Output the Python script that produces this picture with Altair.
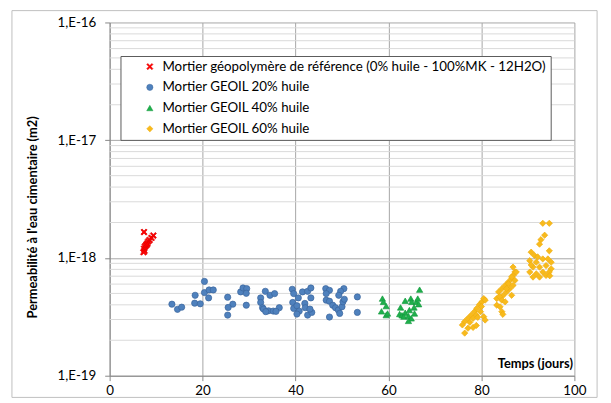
import altair as alt
import pandas as pd

# ---------------- data ----------------
series = [
    "Mortier géopolymère de référence (0% huile - 100%MK - 12H2O)",
    "Mortier GEOIL 20% huile",
    "Mortier GEOIL 40% huile",
    "Mortier GEOIL 60% huile",
]

ref_t = [7.4, 9.4, 9.0, 8.6, 8.3, 8.1, 7.8, 7.6, 7.4, 7.5, 7.3, 8.0]
ref_k = [1.66e-18, 1.55e-18, 1.48e-18, 1.42e-18, 1.38e-18, 1.33e-18,
         1.28e-18, 1.25e-18, 1.20e-18, 1.15e-18, 1.12e-18, 1.30e-18]

g20_t = [13.4, 14.6, 15.5, 18.4, 18.3, 19.5, 20.4, 20.4, 21.4, 22.3, 21.3,
         25.4, 26.5, 25.5, 25.4, 28.2, 28.7, 29.5, 29.4, 29.4, 32.5, 32.5,
         32.9, 33.5, 34.5, 35.5, 33.1, 34.2, 35.2, 36.5, 33.6, 35.8,
         39.3, 39.6, 40.6, 41.5, 42.6, 43.3, 39.4, 39.6, 40.3, 40.8, 40.3,
         42.0, 42.1, 42.6, 43.5, 43.1, 43.3, 46.5, 47.3, 46.6, 50.4, 49.7,
         49.3, 46.6, 47.3, 48.0, 48.6, 49.2, 50.0, 50.2, 50.5, 49.5, 47.3,
         53.3, 53.3]
g20_k = [4.05e-19, 3.66e-19, 3.82e-19, 4.82e-19, 4.13e-19, 4.08e-19, 6.32e-19,
         5.08e-19, 5.35e-19, 5.35e-19, 4.58e-19, 4.64e-19, 4.05e-19, 3.80e-19,
         3.27e-19, 5.15e-19, 5.56e-19, 5.49e-19, 5.01e-19, 3.97e-19, 4.58e-19,
         4.19e-19, 3.78e-19, 5.21e-19, 4.82e-19, 4.98e-19, 3.68e-19, 3.56e-19,
         3.54e-19, 3.78e-19, 3.50e-19, 3.52e-19,
         5.42e-19, 4.98e-19, 4.58e-19, 5.15e-19, 5.21e-19, 5.56e-19, 4.19e-19,
         3.73e-19, 3.93e-19, 3.54e-19, 3.34e-19, 4.11e-19, 3.78e-19, 3.27e-19,
         3.45e-19, 3.68e-19, 4.58e-19, 5.49e-19, 5.31e-19, 4.98e-19, 5.49e-19,
         5.21e-19, 4.82e-19, 4.38e-19, 4.29e-19, 3.97e-19, 3.78e-19, 3.61e-19,
         3.85e-19, 4.24e-19, 4.46e-19, 3.38e-19, 3.15e-19, 4.67e-19, 3.45e-19]

g40_t = [58.7, 58.9, 59.5, 58.5, 59.5, 59.8, 63.6, 62.6, 62.4, 62.9, 63.6,
         63.3, 64.5, 64.3, 64.8, 65.0, 65.5, 66.0, 66.5, 66.3, 66.7, 65.6,
         64.9, 64.3]
g40_k = [4.52e-19, 4.24e-19, 3.90e-19, 3.52e-19, 3.27e-19, 3.38e-19, 4.33e-19,
         3.80e-19, 3.34e-19, 3.26e-19, 3.43e-19, 3.18e-19, 3.61e-19, 3.21e-19,
         4.52e-19, 4.24e-19, 3.80e-19, 4.24e-19, 4.05e-19, 4.52e-19, 5.38e-19,
         3.38e-19, 3.07e-19, 2.92e-19]

g60_t = [76.4, 77.1, 78.2, 78.9, 76.4, 77.1, 77.8, 78.5, 79.0, 79.6, 80.1,
         80.5, 80.8, 79.8, 80.5, 80.8, 78.9, 78.2, 75.9, 77.5, 79.2, 80.0,
         83.3, 84.4, 84.0, 83.3, 83.7, 84.4, 85.1, 85.8, 86.5, 86.8, 87.2,
         84.7, 85.4, 86.1, 86.5, 84.4, 85.1, 84.6, 86.8, 87.5, 86.5, 87.2,
         85.8, 86.8, 85.4, 83.9,
         93.2, 94.6, 93.6, 92.8, 92.5, 94.6, 90.7, 91.4, 90.4, 91.8, 93.2,
         94.3, 95.0, 91.1, 92.5, 93.9, 95.0, 90.4, 91.8, 93.2, 94.6, 91.1,
         92.5, 93.9, 92.1, 90.7, 94.7]
g60_k = [2.30e-19, 2.53e-19, 2.57e-19, 2.67e-19, 2.88e-19, 3.07e-19, 3.27e-19,
         3.50e-19, 3.73e-19, 4.03e-19, 4.24e-19, 4.52e-19, 4.38e-19, 3.50e-19,
         3.17e-19, 2.97e-19, 3.27e-19, 3.07e-19, 2.70e-19, 2.84e-19, 3.13e-19,
         3.87e-19,
         3.97e-19, 3.50e-19, 3.85e-19, 4.52e-19, 5.15e-19, 5.49e-19, 5.85e-19,
         6.25e-19, 6.66e-19, 7.10e-19, 7.59e-19, 4.82e-19, 5.15e-19, 5.49e-19,
         4.82e-19, 4.38e-19, 4.24e-19, 3.32e-19, 8.36e-19, 7.59e-19, 6.88e-19,
         6.45e-19, 6.05e-19, 5.85e-19, 5.49e-19, 4.70e-19,
         1.97e-18, 1.97e-18, 1.56e-18, 1.43e-18, 1.31e-18, 1.15e-18, 1.12e-18,
         1.05e-18, 9.49e-19, 9.20e-19, 9.81e-19, 9.81e-19, 9.20e-19, 8.36e-19,
         8.36e-19, 8.62e-19, 8.09e-19, 7.59e-19, 7.34e-19, 7.59e-19, 7.59e-19,
         6.88e-19, 6.88e-19, 7.10e-19, 1.02e-18, 8.73e-19, 7.06e-19]

x_ticks = [0, 20, 40, 60, 80, 100]
y_ticks = [1e-19, 1e-18, 1e-17, 1e-16]
minor_grid = [m * d for d in (1e-19, 1e-18, 1e-17) for m in range(2, 10)]

# ---------------- styling ----------------
fill_colors = ["#FF0000", "#4F81BD", "#1FAF4B", "#F8BA1C"]
stroke_colors = ["#E00000", "#3A659C", "#139A3E", "#EFAE10"]
x_path = ("M-1,-0.65L-0.65,-1L0,-0.35L0.65,-1L1,-0.65L0.35,0L1,0.65L0.65,1"
          "L0,0.35L-0.65,1L-1,0.65L-0.35,0Z")
shapes = [x_path, "circle", "triangle-up", "diamond"]
sizes = [40, 40, 36, 50]
FONT = "Lato"
YTITLE = "Permeabilité à l'eau cimentaire (m2)"

rows = []
for name, ts, ks in zip(series, [ref_t, g20_t, g40_t, g60_t],
                        [ref_k, g20_k, g40_k, g60_k]):
    for t, k in zip(ts, ks):
        rows.append({"serie": name, "t": t, "k": k})
df = pd.DataFrame(rows)

xscale = alt.Scale(domain=[0, 100], nice=False, zero=False)
yscale = alt.Scale(type="log", domain=[1e-19, 1e-16], nice=False)

x_axis = alt.Axis(
    values=x_ticks, title="Temps (jours)", grid=True, gridColor="#a6a6a6",
    domainColor="#868686", tickColor="#868686", tickSize=5,
    labelFont=FONT, labelFontSize=13.5, labelColor="black", labelPadding=3,
    labelFlush=False,
    titleFont=FONT, titleFontSize=13, titleFontWeight="bold", titleColor="black",
    titleX=469, titleY=-12, titleAlign="right", titleBaseline="middle",
    titleAnchor="end")

y_axis = alt.Axis(
    values=y_ticks, title=YTITLE,
    labelExpr="'1,E' + round(log(datum.value) / LN10)",
    grid=True, gridColor="#a6a6a6",
    domainColor="#868686", tickColor="#868686", tickSize=5,
    labelFont=FONT, labelFontSize=13.5, labelColor="black", labelPadding=9,
    labelFlush=False,
    titleFont=FONT, titleFontSize=13, titleFontWeight="bold", titleColor="black",
    titleX=-78, titleY=197, titleAngle=-90, titleAlign="center",
    titleBaseline="middle")

legend_def = alt.Legend(
    title=None, orient="none", legendX=11, legendY=34, direction="vertical",
    fillColor="white", strokeColor="#595959",
    padding=4, rowPadding=6, symbolOffset=19, labelOffset=6,
    labelFont=FONT, labelFontSize=13.5, labelColor="black", labelLimit=600,
    labelExpr="datum.label + '    '",
    symbolSize=30, symbolStrokeWidth=0.5,
)

grid_layer = alt.Chart(pd.DataFrame({"g": minor_grid})).mark_rule(
    color="#d9d9d9", strokeWidth=1
).encode(y=alt.Y("g:Q", scale=yscale, axis=y_axis, title=YTITLE))

frame_layer = alt.Chart(pd.DataFrame({"a": [0]})).mark_rect(
    fill=None, stroke="#bfbfbf", strokeWidth=1
).encode(x=alt.value(-99), x2=alt.value(494), y=alt.value(-12), y2=alt.value(380))

points = alt.Chart(df).mark_point(filled=True, opacity=1, strokeWidth=0.7).encode(
    x=alt.X("t:Q", scale=xscale, axis=x_axis),
    y=alt.Y("k:Q", scale=yscale, axis=y_axis, title=YTITLE),
    color=alt.Color("serie:N", scale=alt.Scale(domain=series, range=fill_colors),
                    legend=legend_def),
    shape=alt.Shape("serie:N", scale=alt.Scale(domain=series, range=shapes),
                    legend=legend_def),
    stroke=alt.Stroke("serie:N", scale=alt.Scale(domain=series, range=stroke_colors),
                      legend=None),
    size=alt.Size("serie:N", scale=alt.Scale(domain=series, range=sizes), legend=None),
)

chart = alt.layer(frame_layer, grid_layer, points).properties(
    width=471, height=358,
    autosize=alt.AutoSizeParams(type="none"),
    padding={"left": 103, "top": 12, "right": 29, "bottom": 25},
    background="white",
).configure_view(stroke=None)

chart.save("out.html", embed_options={"renderer": "svg", "actions": False})
